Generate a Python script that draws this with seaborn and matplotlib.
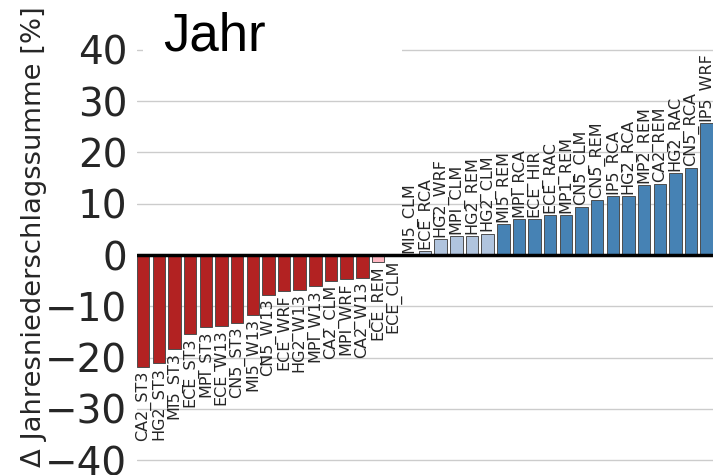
import matplotlib
matplotlib.use("Agg")
import matplotlib.pyplot as plt
import matplotlib.patches as mpatches
import numpy as np
import pandas as pd
import seaborn as sns

# runs sorted by change in annual precipitation sum
RUNS = ["CA2_ST3", "HG2_ST3", "MI5_ST3", "ECE_ST3", "MPI_ST3", "ECE_W13", "CN5_ST3",
        "MI5_W13", "CN5_W13", "ECE_WRF", "HG2_W13", "MPI_W13", "CA2_CLM", "MPI_WRF",
        "CA2_W13", "ECE_REM", "ECE_CLM",
        "MI5_CLM", "ECE_RCA", "HG2_WRF", "MPI_CLM", "HG2_REM", "HG2_CLM", "MI5_REM",
        "MPI_RCA", "ECE_HIR", "ECE_RAC", "MP1_REM", "CN5_CLM", "CN5_REM", "IP5_RCA",
        "HG2_RCA", "MP2_REM", "CA2_REM", "HG2_RAC", "CN5_RCA", "IP5_WRF"]
CHANGE = [-21.8, -21.1, -18.3, -15.3, -14.0, -13.8, -13.3,
          -11.6, -7.8, -7.0, -6.8, -6.0, -5.0, -4.7,
          -4.4, -1.4, -0.1,
          0.1, 0.8, 3.2, 3.7, 3.7, 4.2, 6.0,
          7.0, 7.1, 7.9, 7.9, 9.3, 10.7, 11.5,
          11.6, 13.6, 13.9, 16.0, 17.0, 25.8]
# runs whose change is not significant
NOT_SIGNIF = ["ECE_REM", "ECE_CLM", "MI5_CLM", "ECE_RCA", "HG2_WRF", "MPI_CLM",
              "HG2_REM", "HG2_CLM"]
YTICKS = [-40, -30, -20, -10, 0, 10, 20, 30, 40]

COLORS = {"neg_sig": "#b22222", "neg_ns": "#ffb6c1",
          "pos_ns": "#b0c4de", "pos_sig": "#4682b4"}


def group(name, val):
    sign = "neg" if val < 0 else "pos"
    sig = "ns" if name in NOT_SIGNIF else "sig"
    return sign + "_" + sig


df = pd.DataFrame({"run": RUNS, "change": CHANGE})
df["group"] = [group(r, v) for r, v in zip(RUNS, CHANGE)]

sns.set_theme(style="whitegrid")
plt.rcParams["font.family"] = ["DejaVu Sans"]

fig = plt.figure(figsize=(7.13, 4.75), dpi=100)
ax = fig.add_axes([0.1921, 0.0095, 0.8079, 0.907])

sns.barplot(data=df, x="run", y="change", hue="group", palette=COLORS,
            order=RUNS, dodge=False, legend=False, width=0.8, saturation=1,
            edgecolor="0.3", linewidth=0.7, ax=ax, zorder=2)

ax.axhline(0, color="black", lw=2.5, zorder=3)

for i, (name, val) in enumerate(zip(RUNS, CHANGE)):
    if val < 0:
        ax.text(i, val - 0.7, name, rotation=90, ha="center", va="top",
                fontsize=11.5, color=".15")
    else:
        ax.text(i, val + 0.4, name, rotation=90, ha="center", va="bottom",
                fontsize=11.5, color=".15")

ax.set_xlim(-0.4, len(RUNS) - 0.6)
ax.set_ylim(-42, 42)
ax.set_yticks(YTICKS)
ax.set_yticklabels([f"{t:d}".replace("-", "\u2212") for t in YTICKS])
ax.tick_params(axis="y", labelsize=28, labelcolor=".15", length=0, pad=7)
ax.set_xticks([])
ax.set_xlabel("")
ax.set_ylabel("\u0394 Jahresniederschlagssumme [%]", fontsize=19.7, color=".15")
ax.yaxis.set_label_coords(-0.157, 0.542)
ax.grid(axis="x", visible=False)
ax.grid(axis="y", color=".8", lw=1)
for s in ax.spines.values():
    s.set_visible(False)

# white patch behind the title
ax.add_patch(mpatches.Rectangle((0.0104, 0.92), 0.45, 0.08, transform=ax.transAxes,
                                facecolor="white", edgecolor="none", zorder=1.5,
                                clip_on=False))
ax.text(0.045, 0.9745, "Jahr", transform=ax.transAxes, fontsize=38,
        family="Liberation Sans", color="black", va="baseline", ha="left", zorder=4)

fig.savefig("out.png", dpi=100)
